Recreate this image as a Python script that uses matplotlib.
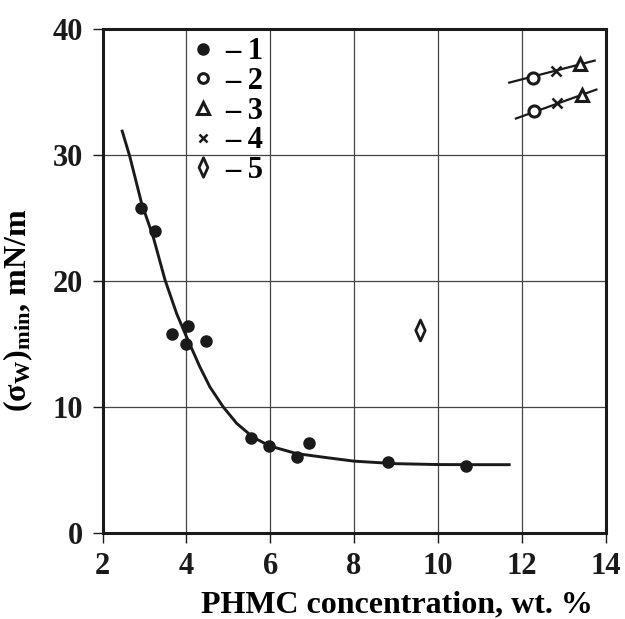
import matplotlib
matplotlib.use("Agg")
import matplotlib.pyplot as plt
from matplotlib.lines import Line2D
from matplotlib.path import Path

plt.rcParams["font.family"] = ["Liberation Serif", "DejaVu Serif"]
plt.rcParams["font.weight"] = "bold"
plt.rcParams["mathtext.fontset"] = "custom"
plt.rcParams["mathtext.rm"] = "Liberation Serif:bold"
plt.rcParams["mathtext.it"] = "Liberation Serif:bold"
plt.rcParams["mathtext.bf"] = "Liberation Serif:bold"

# series 1 (filled circles) and its fitted curve
s1_x = [2.91, 3.25, 3.66, 4.04, 4.00, 4.47, 5.53, 5.98, 6.64, 6.92, 8.81, 10.67]
s1_y = [25.76, 23.95, 15.76, 16.40, 15.04, 15.23, 7.51, 6.93, 6.00, 7.11, 5.65, 5.31]
curve_x = [2.47, 2.65, 2.93, 3.21, 3.49, 3.77, 4.00, 4.32, 4.56, 4.88, 5.20,
           5.59, 5.99, 6.63, 7.30, 8.00, 9.00, 10.00, 11.00, 11.70]
curve_y = [31.9, 29.9, 26.2, 23.5, 20.1, 17.4, 15.6, 13.2, 11.6, 10.0, 8.7,
           7.6, 6.9, 6.3, 6.0, 5.7, 5.5, 5.43, 5.42, 5.42]

# series 2-4 (upper and lower rows) and their lines
s2_x = [12.27, 12.29]
s2_y = [36.1, 33.5]
s3_x = [13.39, 13.43]
s3_y = [37.2, 34.8]
s4_x = [12.81, 12.83]
s4_y = [36.7, 34.1]
upper_x = [11.70, 13.74]
upper_y = [35.75, 37.5]
lower_x = [11.86, 13.78]
lower_y = [32.9, 35.2]

# series 5 (diamond)
s5_x = [9.57]
s5_y = [16.13]

legend_labels = ["\u2013 1", "\u2013 2", "\u2013 3", "\u2013 4", "\u2013 5"]

diamond = Path([(-0.45, 0), (0, 1), (0.45, 0), (0, -1), (-0.45, 0)],
               [Path.MOVETO, Path.LINETO, Path.LINETO, Path.LINETO, Path.CLOSEPOLY])

fig = plt.figure(figsize=(6.25, 6.19), dpi=100)
ax = fig.add_axes([0.164, 0.139, 0.805, 0.814])

k = "#1a1a1a"
ax.plot(curve_x, curve_y, color=k, lw=2.1, zorder=3)
ax.plot(upper_x, upper_y, color=k, lw=1.6, zorder=3)
ax.plot(lower_x, lower_y, color=k, lw=1.6, zorder=3)

ax.plot(s1_x, s1_y, "o", ms=8, color=k, zorder=4)
ax.plot(s2_x, s2_y, "o", ms=8, mfc="white", mec=k, mew=2.2, zorder=4)
ax.plot(s3_x, s3_y, "^", ms=9, mfc="white", mec=k, mew=2.2, zorder=4)
ax.plot(s4_x, s4_y, "x", ms=6.5, mec=k, mew=1.8, zorder=4)
ax.plot(s5_x, s5_y, marker=diamond, ms=15, ls="none", mfc="white", mec=k, mew=2.0, zorder=4)

handles = [
    Line2D([], [], ls="none", marker="o", ms=8, color=k),
    Line2D([], [], ls="none", marker="o", ms=7, mfc="white", mec=k, mew=2.2),
    Line2D([], [], ls="none", marker="^", ms=8, mfc="white", mec=k, mew=2.2),
    Line2D([], [], ls="none", marker="x", ms=6, mec=k, mew=1.8),
    Line2D([], [], ls="none", marker=diamond, ms=14, mfc="white", mec=k, mew=2.0),
]
ax.legend(handles, legend_labels, loc="upper left", bbox_to_anchor=(0.117, 1.038),
          frameon=False, handlelength=0.9, handletextpad=0.3, labelspacing=0.02,
          prop={"family": "Liberation Serif", "weight": "bold", "size": 22})

ax.set_xlim(2, 14)
ax.set_ylim(0, 40)
ax.set_xticks([2, 4, 6, 8, 10, 12, 14])
ax.set_yticks([0, 10, 20, 30, 40])
ax.grid(True, color="#444444", lw=0.9)
ax.set_axisbelow(True)
for s in ax.spines.values():
    s.set_linewidth(2.2)
    s.set_color(k)
ax.tick_params(direction="out", length=7, width=1.0, colors=k, labelsize=22, pad=7)
for lab in ax.get_xticklabels() + ax.get_yticklabels():
    lab.set_fontweight("bold")

ax.set_xlabel("PHMC concentration, wt. %", fontsize=23, fontweight="bold")
ax.xaxis.set_label_coords(0.585, -0.115)
ax.set_ylabel(r"(σ$_{\rm W}$)$_{\rm min}$, mN/m", fontsize=23, fontweight="bold")
ax.yaxis.set_label_coords(-0.135, 0.442)

fig.savefig("out.png", dpi=100)
